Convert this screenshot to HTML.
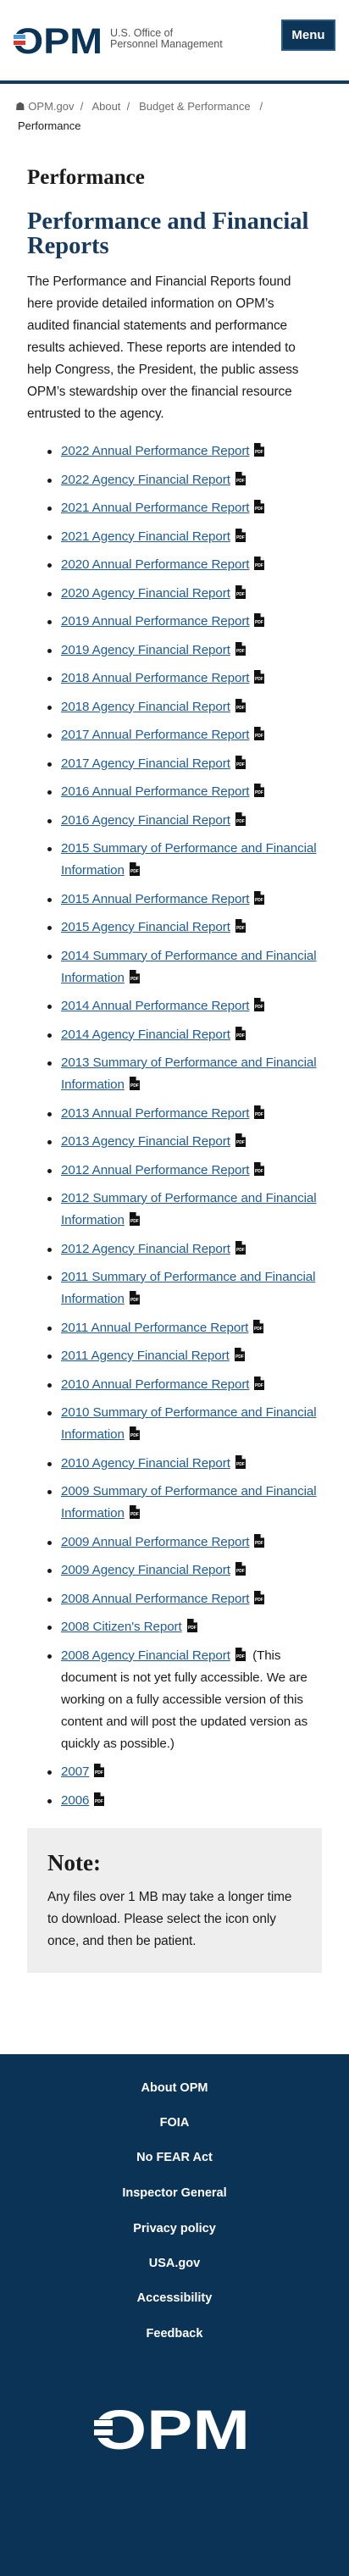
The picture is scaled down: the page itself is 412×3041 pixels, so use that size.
<!DOCTYPE html>
<html><head><meta charset="utf-8">
<style>
*{box-sizing:border-box;margin:0;padding:0}
html,body{width:412px;height:3041px;background:#fff;overflow:hidden}
body{font-family:"Liberation Sans",sans-serif;color:#1b1b1b;position:relative}
.abs{position:absolute}
.menu{left:332px;top:23px;width:64px;height:37px;background:#0d3558;border:2px solid #2a5b86;color:#fff;font-weight:bold;font-size:15px;line-height:33px;text-align:center}
.rule{left:0;top:95px;width:412px;height:4px;background:#163a5c}
.bc{font-size:13px;color:#6d6d6d;line-height:20px}
h1,h2,.note h3{font-family:"Liberation Serif",serif;font-weight:bold}
h1{position:absolute;left:32px;top:193px;font-size:25px;line-height:34px;color:#1b1b1b}
h2{position:absolute;left:32px;top:247px;font-size:28.5px;line-height:29px;color:#183a5c}
p.intro{position:absolute;left:32px;top:320px;font-size:15.4px;line-height:26px;color:#1b1b1b;letter-spacing:-0.1px}
ul{position:absolute;left:72px;top:520px;width:310px;list-style:none}
li{position:relative;font-size:15.2px;line-height:26px;margin-bottom:7.5px;letter-spacing:-0.1px}
li:before{content:"";position:absolute;left:-16px;top:11px;width:5px;height:5px;border-radius:50%;background:#1b1b1b}
li a{color:#1f5c95;text-decoration:underline}
.pdf{display:inline-block;vertical-align:-2px;margin-left:6px}
.note{left:32px;top:2158px;width:348px;height:171px;background:#eeeeee}
.note h3{position:absolute;left:24px;top:25px;font-size:27px;line-height:32px;color:#1b1b1b}
.note p{position:absolute;left:24px;top:69px;font-size:15.4px;line-height:26px;letter-spacing:-0.1px}
footer{left:0;top:2425px;width:412px;height:616px;background:#0b3355}
footer a{position:absolute;left:0;width:412px;text-align:center;color:#fff;font-weight:bold;font-size:14.5px;line-height:20px;text-decoration:none}
</style></head><body>
<svg class="abs" style="left:16px;top:28px" width="106" height="38" viewBox="0 0 106 38">
<text x="-1" y="35" font-family="Liberation Sans" font-weight="bold" font-size="43" fill="#0b3456" textLength="106" lengthAdjust="spacingAndGlyphs">OPM</text>
<rect x="0" y="12" width="14" height="14" fill="#fff"/>
<rect x="0" y="13" width="14" height="5" fill="#4a9bd9"/>
<rect x="0" y="20" width="14" height="5" fill="#d83933"/>
</svg>
<div class="abs" style="left:130px;top:33px;font-size:12.5px;line-height:13px;color:#555">U.S. Office of<br>Personnel Management</div>
<div class="abs menu">Menu</div>
<div class="abs rule"></div>
<div class="abs bc" style="left:18px;top:116px;width:380px">
<span style="color:#555">&#9751;</span> <a style="color:#6d6d6d">OPM.gov</a> &nbsp;/&nbsp;&nbsp; <a>About</a> &nbsp;/&nbsp;&nbsp; <a>Budget &amp; Performance</a> &nbsp;&nbsp;/<br><span style="color:#1b1b1b;padding-left:3px;line-height:26px">Performance</span>
</div>
<h1>Performance</h1>
<h2>Performance and Financial<br>Reports</h2>
<p class="intro">The Performance and Financial Reports found<br>here provide detailed information on OPM’s<br>audited financial statements and performance<br>results achieved. These reports are intended to<br>help Congress, the President, the public assess<br>OPM’s stewardship over the financial resource<br>entrusted to the agency.</p>
<ul id="list"></ul>
<div class="abs note">
<h3>Note:</h3>
<p>Any files over 1 MB may take a longer time<br>to download. Please select the icon only<br>once, and then be patient.</p>
</div>
<footer class="abs">
<a style="top:30px">About OPM</a>
<a style="top:71px">FOIA</a>
<a style="top:112px">No FEAR Act</a>
<a style="top:154px">Inspector General</a>
<a style="top:196px">Privacy policy</a>
<a style="top:237px">USA.gov</a>
<a style="top:278px">Accessibility</a>
<a style="top:320px">Feedback</a>
<svg class="abs" style="left:111px;top:413px" width="185" height="56" viewBox="0 0 185 56">
<text x="-1" y="53" font-family="Liberation Sans" font-weight="bold" font-size="66" fill="#fff" textLength="185" lengthAdjust="spacingAndGlyphs">OPM</text>
<rect x="0" y="18" width="22" height="22" fill="#0b3355"/>
<rect x="0" y="19" width="22" height="7" fill="#fff"/>
<rect x="0" y="30" width="22" height="7" fill="#fff"/>
</svg>
</footer>
<script>
const titles=["2022 Annual Performance Report","2022 Agency Financial Report","2021 Annual Performance Report","2021 Agency Financial Report","2020 Annual Performance Report","2020 Agency Financial Report","2019 Annual Performance Report","2019 Agency Financial Report","2018 Annual Performance Report","2018 Agency Financial Report","2017 Annual Performance Report","2017 Agency Financial Report","2016 Annual Performance Report","2016 Agency Financial Report","2015 Summary of Performance and Financial|Information","2015 Annual Performance Report","2015 Agency Financial Report","2014 Summary of Performance and Financial|Information","2014 Annual Performance Report","2014 Agency Financial Report","2013 Summary of Performance and Financial|Information","2013 Annual Performance Report","2013 Agency Financial Report","2012 Annual Performance Report","2012 Summary of Performance and Financial|Information","2012 Agency Financial Report","2011 Summary of Performance and Financial|Information","2011 Annual Performance Report","2011 Agency Financial Report","2010 Annual Performance Report","2010 Summary of Performance and Financial|Information","2010 Agency Financial Report","2009 Summary of Performance and Financial|Information","2009 Annual Performance Report","2009 Agency Financial Report","2008 Annual Performance Report","2008 Citizen's Report","2008 Agency Financial Report","2007","2006"];
const icon='<svg class="pdf" width="12" height="16" viewBox="0 0 12 16"><path d="M0 0H8L12 4V16H0Z" fill="#111"/><path d="M8 0V4H12" fill="#fff" stroke="#fff" stroke-width="0.8"/><text x="1" y="12" font-size="5" font-family="Liberation Sans" font-weight="bold" fill="#fff">PDF</text></svg>';
const ul=document.getElementById('list');
titles.forEach((t,i)=>{
 const li=document.createElement('li');
 
 
 const a=document.createElement('a');
 
 
 a.innerHTML=t.replace('|','<br>');
 li.appendChild(a);
 li.insertAdjacentHTML('beforeend',icon);
 if(t==="2008 Agency Financial Report"){
  const s=document.createElement('span');
  
  
  s.innerHTML=' &nbsp;(This<br>document is not yet fully accessible. We are<br>working on a fully accessible version of this<br>content and will post the updated version as<br>quickly as possible.)';
  li.appendChild(s);
 }
 ul.appendChild(li);
});
</script>
</body></html>
